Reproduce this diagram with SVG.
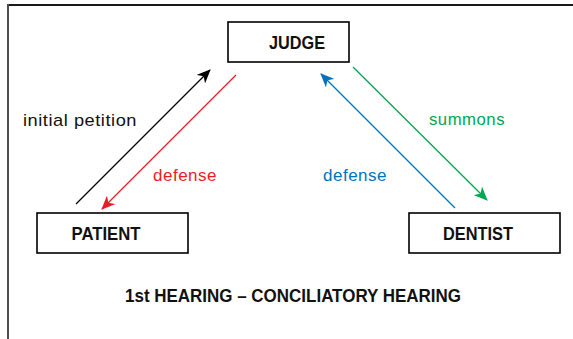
<svg xmlns="http://www.w3.org/2000/svg" width="573" height="339" viewBox="0 0 573 339">
  <style>
    .box { fill: #ffffff; stroke: #000000; stroke-width: 1.6; }
    .node-label { font-family: "Liberation Sans Narrow", "Liberation Sans", Arial, sans-serif; font-weight: bold; font-size: 19px; fill: #111111; text-anchor: middle; }
    .edge-label { font-family: "Liberation Sans Narrow", "Liberation Sans", Arial, sans-serif; font-size: 17px; letter-spacing: 0.5px; }
    .title { font-family: "Liberation Sans Narrow", "Liberation Sans", Arial, sans-serif; font-weight: bold; font-size: 18px; fill: #111111; text-anchor: middle; }
    .conn { fill: none; stroke-width: 1.3; }
  </style>
  <defs>
    <marker id="head-black" viewBox="0 0 14 12" refX="13" refY="6" markerWidth="14" markerHeight="12" markerUnits="userSpaceOnUse" orient="auto">
      <path d="M0,0 L14,6 L0,12 L4,6 z" fill="#000000"/>
    </marker>
    <marker id="head-red" viewBox="0 0 14 12" refX="13" refY="6" markerWidth="14" markerHeight="12" markerUnits="userSpaceOnUse" orient="auto">
      <path d="M0,0 L14,6 L0,12 L4,6 z" fill="#ed1c24"/>
    </marker>
    <marker id="head-blue" viewBox="0 0 14 12" refX="13" refY="6" markerWidth="14" markerHeight="12" markerUnits="userSpaceOnUse" orient="auto">
      <path d="M0,0 L14,6 L0,12 L4,6 z" fill="#0072bc"/>
    </marker>
    <marker id="head-green" viewBox="0 0 14 12" refX="13" refY="6" markerWidth="14" markerHeight="12" markerUnits="userSpaceOnUse" orient="auto">
      <path d="M0,0 L14,6 L0,12 L4,6 z" fill="#00a651"/>
    </marker>
  </defs>

  <rect width="573" height="339" fill="#ffffff"/>

  <!-- outer frame: top and left rules only -->
  <g id="frame">
    <line x1="7" y1="5" x2="573" y2="5" stroke="#1a1a1a" stroke-width="2"/>
    <line x1="8" y1="4" x2="8" y2="339" stroke="#4d4d4d" stroke-width="2"/>
  </g>

  <g id="connectors">
    <line class="conn" x1="76" y1="204" x2="210" y2="70" stroke="#000000" marker-end="url(#head-black)"/>
    <line class="conn" x1="236" y1="75" x2="102" y2="209" stroke="#ed1c24" marker-end="url(#head-red)"/>
    <line class="conn" x1="455" y1="208" x2="321" y2="74" stroke="#0072bc" marker-end="url(#head-blue)"/>
    <line class="conn" x1="353" y1="67" x2="487" y2="200" stroke="#00a651" marker-end="url(#head-green)"/>
    <text class="edge-label" x="23" y="126" fill="#111111" textLength="114" lengthAdjust="spacingAndGlyphs">initial petition</text>
    <text class="edge-label" x="153" y="181" fill="#ed1c24" textLength="64" lengthAdjust="spacingAndGlyphs">defense</text>
    <text class="edge-label" x="323" y="181" fill="#0072bc" textLength="64" lengthAdjust="spacingAndGlyphs">defense</text>
    <text class="edge-label" x="429" y="125" fill="#00a651" textLength="76" lengthAdjust="spacingAndGlyphs">summons</text>
  </g>

  <g id="judge">
    <rect class="box" x="228" y="22" width="121" height="40"/>
    <text class="node-label" x="297" y="49" textLength="56" lengthAdjust="spacingAndGlyphs">JUDGE</text>
  </g>

  <g id="patient">
    <rect class="box" x="37" y="213" width="151" height="40"/>
    <text class="node-label" x="106" y="240" textLength="69" lengthAdjust="spacingAndGlyphs">PATIENT</text>
  </g>

  <g id="dentist">
    <rect class="box" x="409" y="213" width="151" height="40"/>
    <text class="node-label" x="478" y="240" textLength="70" lengthAdjust="spacingAndGlyphs">DENTIST</text>
  </g>

  <text class="title" x="293" y="302" textLength="336" lengthAdjust="spacingAndGlyphs">1st HEARING – CONCILIATORY HEARING</text>
</svg>
